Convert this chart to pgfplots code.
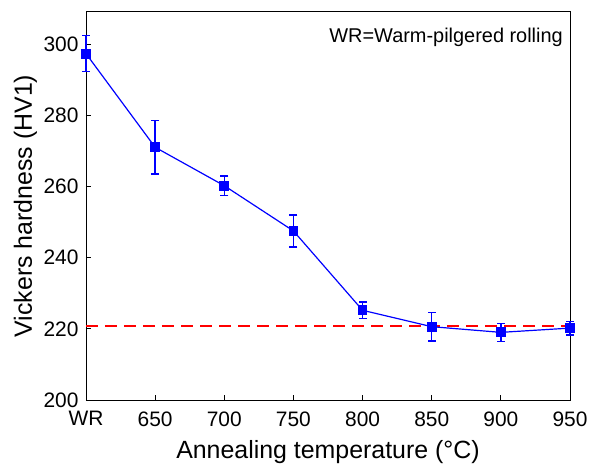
\documentclass[border=0pt]{standalone}
\usepackage{fontspec}
\setmainfont{Liberation Sans}
\usepackage{pgfplots}
\pgfplotsset{compat=1.18}
\begin{document}
\begin{tikzpicture}[x=1bp,y=1bp]
\begin{axis}[
  name=ax,
  scale only axis,
  width=484bp, height=388bp,
  xmin=0, xmax=7,
  ymin=200, ymax=309,
  xtick={0,1,2,3,4,5,6,7},
  xticklabels={WR,650,700,750,800,850,900,950},
  ytick={200,220,240,260,280,300},
  tick pos=left,
  tick align=inside,
  major tick length=5bp,
  tick style={line width=1pt, black},
  axis line style={line width=1pt},
  /pgf/number format/assume math mode=true,
  ticklabel style={font=\fontsize{21}{23}\selectfont},
  xticklabel style={yshift=-8bp},
  yticklabel style={xshift=-4bp},
  xlabel={Annealing temperature (°C)},
  ylabel={Vickers hardness (HV1)},
  label style={font=\fontsize{25}{27}\selectfont},
  xlabel style={at={(axis description cs:0.5,-0.135)}, anchor=center},
  ylabel style={at={(axis description cs:-0.125,0.5)}, anchor=center},
  unbounded coords=jump,
  clip=false,
]
\addplot[red, line width=1.8pt, dash pattern=on 12bp off 7bp] coordinates {(0,220.8) (7,220.8)};
% error bars (lower, upper), separated by jumps
\addplot[blue, line width=1.4pt, mark=-, mark size=4bp, mark options={solid, line width=1.4pt, blue}]
  coordinates {
  (0,292.2) (0,302.4) (0,nan)
  (1,263.5) (1,278.5) (1,nan)
  (2,257.5) (2,262.9) (2,nan)
  (3,243.0) (3,252.0) (3,nan)
  (4,222.9) (4,227.5) (4,nan)
  (5,216.6) (5,224.6) (5,nan)
  (6,216.5) (6,221.5) (6,nan)
  (7,218.3) (7,222.1)
  };
\addplot[blue, line width=1.2pt, mark=square*, mark size=4.3bp,
  mark options={solid, fill=blue, draw=blue}]
  coordinates {
  (0,297.3)
  (1,271.0)
  (2,260.2)
  (3,247.5)
  (4,225.2)
  (5,220.6)
  (6,219.0)
  (7,220.2)
  };
\node[anchor=north east, inner sep=0pt, font=\fontsize{20}{22}\selectfont] at ([xshift=-7bp,yshift=-16bp]rel axis cs:1,1) {WR=Warm-pilgered rolling};
\end{axis}
\pgfresetboundingbox
\path ([xshift=-86bp,yshift=-65bp]ax.south west) rectangle ([xshift=20bp,yshift=12bp]ax.north east);
\end{tikzpicture}
\end{document}
